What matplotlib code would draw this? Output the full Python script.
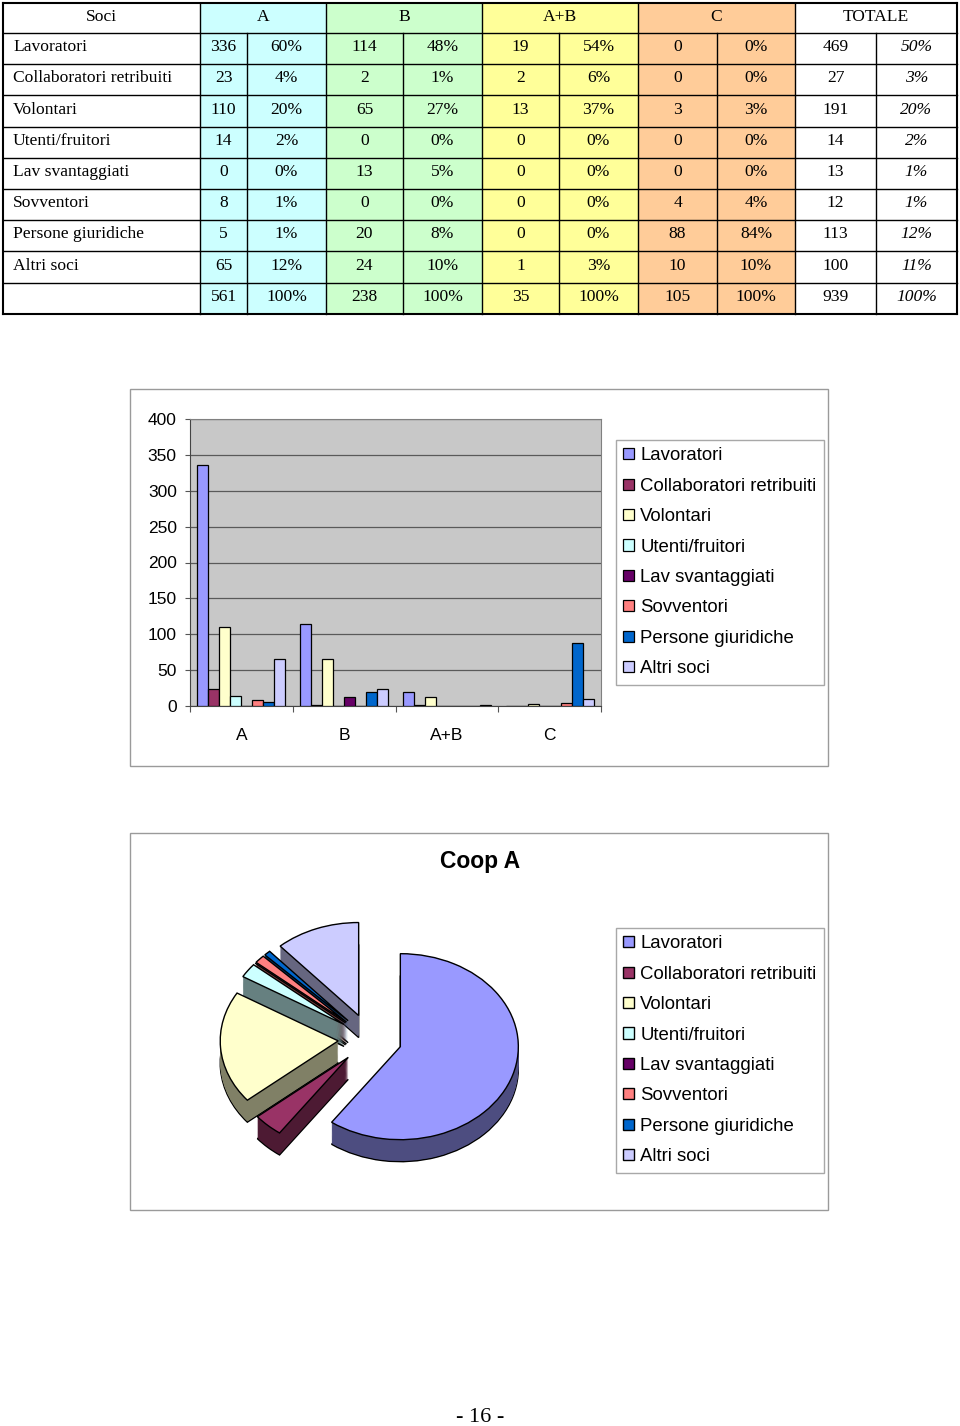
import matplotlib
matplotlib.use('Agg')
import matplotlib.pyplot as plt
from matplotlib.patches import Rectangle
from matplotlib.colors import to_rgb
import numpy as np

# ---------------- data ----------------
categories = ["Lavoratori", "Collaboratori retribuiti", "Volontari", "Utenti/fruitori",
              "Lav svantaggiati", "Sovventori", "Persone giuridiche", "Altri soci"]
groups = ["A", "B", "A+B", "C"]
vals_A = [336, 23, 110, 14, 0, 8, 5, 65]
pct_A = ["60%", "4%", "20%", "2%", "0%", "1%", "1%", "12%"]
vals_B = [114, 2, 65, 0, 13, 0, 20, 24]
pct_B = ["48%", "1%", "27%", "0%", "5%", "0%", "8%", "10%"]
vals_AB = [19, 2, 13, 0, 0, 0, 0, 1]
pct_AB = ["54%", "6%", "37%", "0%", "0%", "0%", "0%", "3%"]
vals_C = [0, 0, 3, 0, 0, 4, 88, 10]
pct_C = ["0%", "0%", "3%", "0%", "0%", "4%", "84%", "10%"]
vals_TOT = [469, 27, 191, 14, 13, 12, 113, 100]
pct_TOT = ["50%", "3%", "20%", "2%", "1%", "1%", "12%", "11%"]
col_totals = [561, 238, 35, 105, 939]
total_pct = "100%"
table_headers = ["Soci", "A", "B", "A+B", "C", "TOTALE"]
yticks_bar = [0, 50, 100, 150, 200, 250, 300, 350, 400]
pie_title = "Coop A"
page_label = "- 16 -"

series_colors = ['#9999FF', '#993366', '#FFFFCC', '#CCFFFF',
                 '#660066', '#FF8080', '#0066CC', '#CCCCFF']

W, H = 960, 1426
fig = plt.figure(figsize=(W / 100, H / 100), dpi=100)
fig.patch.set_facecolor('white')

SERIF = ['Liberation Serif', 'DejaVu Serif']
SANS = ['Liberation Sans', 'DejaVu Sans']

# ---------------- table (pixel coordinates) ----------------
axf = fig.add_axes([0, 0, 1, 1])
axf.set_xlim(0, W)
axf.set_ylim(H, 0)
axf.axis('off')

col_edges = [3, 200, 247, 326, 403, 482, 559, 638, 717, 795, 876, 957]
group_fill = ['#CCFFFF', '#CCFFCC', '#FFFF99', '#FFCC99', 'white']
top, head_bot, row_h = 3, 33, 31.2
n_rows = len(categories) + 1
bottom = head_bot + n_rows * row_h

for g in range(5):
    x0 = col_edges[1 + 2 * g]
    x1 = col_edges[3 + 2 * g]
    axf.add_patch(Rectangle((x0, top), x1 - x0, bottom - top, facecolor=group_fill[g],
                            edgecolor='none', zorder=1))

lw = 1.0
axf.plot([col_edges[0], col_edges[-1]], [top, top], color='black', lw=1.5, zorder=3)
axf.plot([col_edges[0], col_edges[-1]], [bottom, bottom], color='black', lw=1.5, zorder=3)
for r in range(n_rows):
    y = head_bot + r * row_h
    axf.plot([col_edges[0], col_edges[-1]], [y, y], color='black', lw=lw, zorder=3)
for i, x in enumerate(col_edges):
    if i in (0, len(col_edges) - 1):
        axf.plot([x, x], [top, bottom], color='black', lw=1.5, zorder=3)
    elif i % 2 == 1:
        axf.plot([x, x], [top, bottom], color='black', lw=lw, zorder=3)
    else:
        axf.plot([x, x], [head_bot, bottom], color='black', lw=lw, zorder=3)

fs_t = 12.6
hy = (top + head_bot) / 2 - 1
axf.text((col_edges[0] + col_edges[1]) / 2, hy, table_headers[0], ha='center', va='center',
         fontsize=fs_t, family=SERIF, zorder=4)
for g in range(5):
    xc = (col_edges[1 + 2 * g] + col_edges[3 + 2 * g]) / 2
    axf.text(xc, hy, table_headers[g + 1], ha='center', va='center', fontsize=fs_t,
             family=SERIF, zorder=4)

num_cols = [vals_A, vals_B, vals_AB, vals_C, vals_TOT]
pct_cols = [pct_A, pct_B, pct_AB, pct_C, pct_TOT]
for r in range(n_rows):
    yc = head_bot + (r + 0.5) * row_h - 1.5
    if r < len(categories):
        axf.text(13, yc, categories[r], ha='left', va='center', fontsize=fs_t, family=SERIF, zorder=4)
    for g in range(5):
        xn = (col_edges[1 + 2 * g] + col_edges[2 + 2 * g]) / 2
        xp = (col_edges[2 + 2 * g] + col_edges[3 + 2 * g]) / 2
        if r < len(categories):
            nv = str(num_cols[g][r]); pv = pct_cols[g][r]
        else:
            nv = str(col_totals[g]); pv = total_pct
        axf.text(xn, yc, nv, ha='center', va='center', fontsize=fs_t, family=SERIF, zorder=4)
        axf.text(xp, yc, pv, ha='center', va='center', fontsize=fs_t, family=SERIF,
                 style='italic' if g == 4 else 'normal', zorder=4)

# chart frames
for (x0, y0, x1, y1) in [(130, 389, 828, 766), (130, 833, 828, 1210)]:
    axf.add_patch(Rectangle((x0, y0), x1 - x0, y1 - y0, facecolor='white',
                            edgecolor='#9A9A9A', lw=1.0, zorder=1))

# page number
axf.text(480, 1417, page_label, ha='center', va='center', fontsize=16, family=SERIF)

# ---------------- bar chart ----------------
axb = fig.add_axes([190 / W, 1 - 706 / H, 411 / W, 287 / H])
axb.set_facecolor('#C8C8C8')
xg = np.arange(len(groups))
bw = 11 / 102.75
data_by_group = [vals_A, vals_B, vals_AB, vals_C]
bar_handles = []
for i, cat in enumerate(categories):
    v = [data_by_group[g][i] for g in range(len(groups))]
    b = axb.bar(xg + (i - 3.5) * bw, v, bw, color=series_colors[i], edgecolor='black',
                linewidth=0.9, label=cat, zorder=3)
    bar_handles.append(b)
axb.set_xlim(-0.5, len(groups) - 0.5)
axb.set_ylim(0, 400)
axb.set_yticks(yticks_bar)
axb.set_yticklabels([str(t) for t in yticks_bar], family=SANS, fontsize=12.5)
axb.yaxis.grid(True, color='#5A5A5A', lw=0.9, zorder=1)
axb.set_axisbelow(True)
axb.tick_params(axis='y', length=3.5, width=0.8, pad=6, color='#555555')
axb.set_xticks(xg)
axb.set_xticklabels(groups, family=SANS, fontsize=12.5)
axb.set_xticks(np.arange(-0.5, len(groups)), minor=True)
axb.tick_params(axis='x', which='major', length=0, pad=15.5)
axb.tick_params(axis='x', which='minor', length=4, width=0.8, color='#555555')
for s in ['top', 'right']:
    axb.spines[s].set_color('#808080')
for s in ['left', 'bottom']:
    axb.spines[s].set_color('#444444')

leg_kw = dict(loc='upper left', bbox_transform=fig.transFigure, borderaxespad=0,
              fancybox=False, framealpha=1, edgecolor='#A8A8A8',
              handlelength=0.55, handleheight=0.55, handletextpad=0.35,
              borderpad=0.4, labelspacing=0.72, prop={'family': SANS, 'size': 13.4})
leg1 = fig.legend(bar_handles, categories, bbox_to_anchor=(616 / W, 1 - 440 / H), **leg_kw)
leg1.get_frame().set_linewidth(1.0)

# ---------------- pie chart (pseudo 3D) ----------------
cx, cy, rx, ry = 370, 1039, 118, 93
px0, px1, py0, py1 = 200, 570, 900, 1195
axp = fig.add_axes([px0 / W, 1 - py1 / H, (px1 - px0) / W, (py1 - py0) / H])
explode = [0.27] * len(categories)
depth = 22 / ry
side_colors = [tuple(0.5 * c for c in to_rgb(col)) for col in series_colors]
N = 24
for k in range(N + 1):
    yc = -depth + depth * k / N
    ec = 'black' if k == 0 else 'none'
    axp.pie(vals_A, colors=side_colors, startangle=90, counterclock=False, explode=explode,
            center=(0, yc), wedgeprops=dict(edgecolor=ec, linewidth=1.0))
wedges, _ = axp.pie(vals_A, colors=series_colors, startangle=90, counterclock=False,
                    explode=explode, center=(0, 0),
                    wedgeprops=dict(edgecolor='black', linewidth=1.0))
axp.set_aspect('auto')
axp.set_xlim((px0 - cx) / rx, (px1 - cx) / rx)
axp.set_ylim(-(py1 - cy) / ry, (cy - py0) / ry)
axp.axis('off')

fig.text(480 / W, 1 - 862 / H, pie_title, ha='center', va='center', fontsize=16.5,
         fontweight='bold', family=SANS)
leg2 = fig.legend(wedges, categories, bbox_to_anchor=(616 / W, 1 - 928 / H), **leg_kw)
leg2.get_frame().set_linewidth(1.0)

fig.savefig('out.png', dpi=100, facecolor='white')
